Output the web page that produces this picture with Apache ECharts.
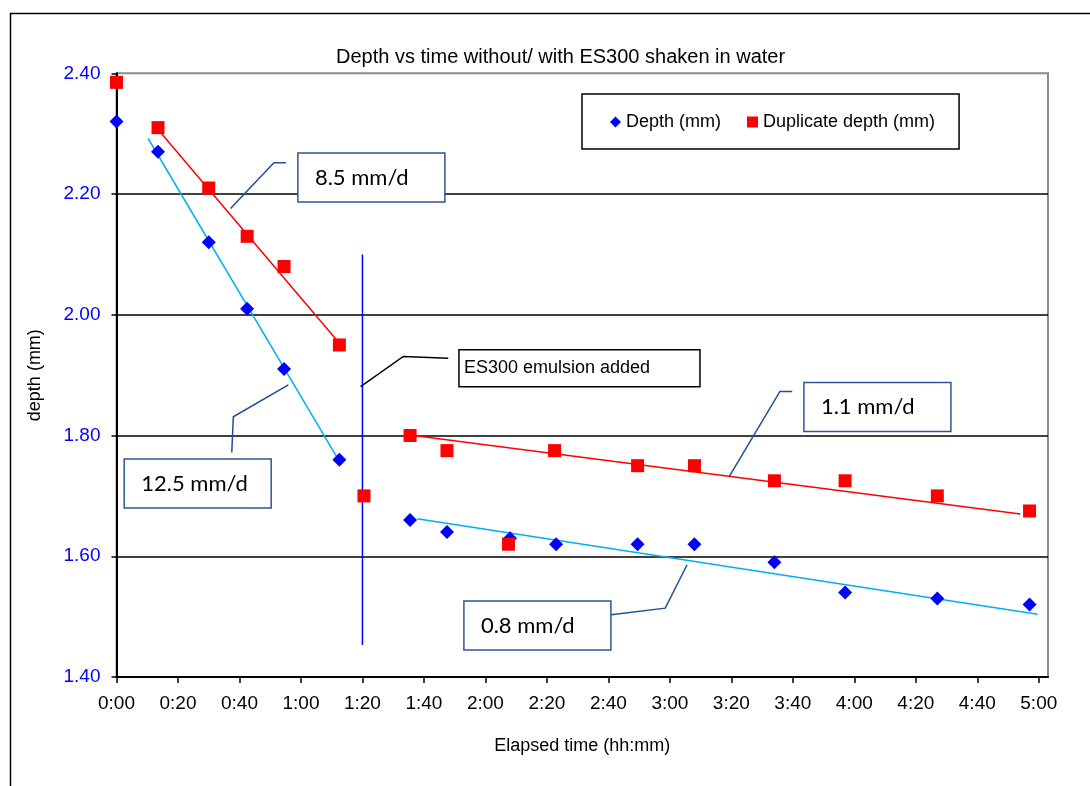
<!DOCTYPE html>
<html>
<head>
<meta charset="utf-8">
<script src="https://cdn.jsdelivr.net/npm/echarts@6/dist/echarts.min.js"></script>
<style>
  html, body { margin: 0; padding: 0; background: #fff; }
  #figurecontainer { width: 1090px; height: 786px; }
</style>
</head>
<body>
<div id="figurecontainer"></div>
<script>
	// elapsed time in minutes, depth in mm
	var depthTime = [0, 13.5, 30, 42.5, 54.5, 72.5, 95.5, 107.5, 128, 143, 169.5, 188, 214, 237, 267, 297];
	var depthVal = [2.32, 2.27, 2.12, 2.01, 1.91, 1.76, 1.66, 1.64, 1.63, 1.62, 1.62, 1.62, 1.59, 1.54, 1.53, 1.52];
	var dupTime = [0, 13.5, 30, 42.5, 54.5, 72.5, 80.5, 95.5, 107.5, 127.5, 142.5, 169.5, 188, 214, 237, 267, 297];
	var dupVal = [2.385, 2.31, 2.21, 2.13, 2.08, 1.95, 1.70, 1.80, 1.775, 1.62, 1.775, 1.75, 1.75, 1.725, 1.725, 1.70, 1.675];
	// trend lines (start / end points)
	var depthFitBefore = [[10.3, 2.292], [72.5, 1.757]];
	var depthFitAfter = [[97.8, 1.662], [299.6, 1.504]];
	var dupFitBefore = [[13.5, 2.307], [72.5, 1.953]];
	var dupFitAfter = [[95.4, 1.801], [294.0, 1.670]];
	var emulsionLine = [[80, 2.10], [80, 1.453]];
	var xTicks = [0, 20, 40, 60, 80, 100, 120, 140, 160, 180, 200, 220, 240, 260, 280, 300];
	// text boxes with leader lines, anchored in data coordinates
	var notes = [
		{ text: '8.5 mm/d', at: [59.0, 2.268], lead: [[37.1, 2.176], [51.2, 2.252], [55.1, 2.252]], rate: true },
		{ text: '12.5 mm/d', at: [2.5, 1.761], lead: [[55.9, 1.884], [38.0, 1.831], [37.5, 1.772]], rate: true },
		{ text: 'ES300 emulsion added', at: [111.4, 1.942], lead: [[79.4, 1.881], [93.3, 1.931], [107.9, 1.928]], rate: false },
		{ text: '1.1 mm/d', at: [223.6, 1.888], lead: [[199.3, 1.732], [215.8, 1.873], [219.8, 1.873]], rate: true },
		{ text: '0.8 mm/d', at: [113.0, 1.526], lead: [[160.9, 1.503], [178.5, 1.514], [185.6, 1.586]], rate: true }
	];

	var dom = document.getElementById("figurecontainer");
	var myChart = echarts.init(dom);
	var font = '"Liberation Sans", Arial, sans-serif';

	function pairs(xs, ys) {
		var out = [];
		for (var i = 0; i < xs.length; i++) {
			out.push([xs[i], ys[i]]);
		}
		return out;
	}
	function hhmm(v) {
		var m = Math.round(v);
		var mm = m % 60;
		return Math.floor(m / 60) + ':' + (mm < 10 ? '0' : '') + mm;
	}
	function fitLine(name, pts, color) {
		return {
			name: name, type: 'line', data: pts, showSymbol: false, silent: true,
			lineStyle: { color: color, width: 1.5 }, z: 1
		};
	}

	option = {
		animation: false,
		title: {
			text: 'Depth vs time without/ with ES300 shaken in water',
			left: 331, top: 42,
			textStyle: { fontFamily: font, fontSize: 20, fontWeight: 'normal', color: '#000' }
		},
		legend: {
			data: ['Depth (mm)', 'Duplicate depth (mm)'],
			left: 582, top: 94,
			padding: [19, 24, 18, 28],
			itemWidth: 11, itemHeight: 11, itemGap: 26,
			borderColor: '#000', borderWidth: 1.5,
			textStyle: { fontFamily: font, fontSize: 18, color: '#000' }
		},
		grid: {
			left: 116.5, top: 73.3, right: 42, bottom: 109,
			show: true, borderColor: '#8c8c8c', borderWidth: 2, backgroundColor: '#fff'
		},
		xAxis: {
			type: 'value', min: 0, max: 303,
			name: 'Elapsed time (hh:mm)', nameLocation: 'middle', nameGap: 60,
			nameTextStyle: { fontFamily: font, fontSize: 18, color: '#000' },
			axisLine: { lineStyle: { color: '#000', width: 2 } },
			axisTick: { show: true, length: 6, customValues: xTicks, lineStyle: { color: '#000', width: 1.5 } },
			axisLabel: { customValues: xTicks, formatter: hhmm, margin: 17,
				fontFamily: font, fontSize: 19, color: '#000' },
			splitLine: { show: false }
		},
		yAxis: {
			type: 'value', min: 1.4, max: 2.4, interval: 0.2,
			name: 'depth (mm)', nameLocation: 'middle', nameGap: 72,
			nameTextStyle: { fontFamily: font, fontSize: 18, color: '#000' },
			axisLine: { show: true, lineStyle: { color: '#000', width: 2 } },
			axisTick: { show: true, length: 5, lineStyle: { color: '#000', width: 1.5 } },
			axisLabel: { formatter: function (v) { return v.toFixed(2); }, margin: 16,
				fontFamily: font, fontSize: 19, color: '#0000ff' },
			splitLine: { show: true, showMinLine: false, showMaxLine: false, lineStyle: { color: '#000', width: 1.5 } }
		},
		series: [
			fitLine('depthFit1', depthFitBefore, '#00b0f0'),
			fitLine('depthFit2', depthFitAfter, '#00b0f0'),
			fitLine('dupFit1', dupFitBefore, '#ff0000'),
			fitLine('dupFit2', dupFitAfter, '#ff0000'),
			fitLine('emulsion', emulsionLine, '#0000ff'),
			{
				name: 'Depth (mm)', type: 'scatter', data: pairs(depthTime, depthVal),
				symbol: 'diamond', symbolSize: 14, itemStyle: { color: '#0000ff', opacity: 1 }, z: 3
			},
			{
				name: 'Duplicate depth (mm)', type: 'scatter', data: pairs(dupTime, dupVal),
				symbol: 'rect', symbolSize: 13, itemStyle: { color: '#ff0000', opacity: 1 }, z: 4
			}
		]
	};
	myChart.setOption(option, true);

	// boxes and leader lines
	var graphics = [{
		type: 'rect', shape: { x: 10.5, y: 13.5, width: 1200, height: 900 },
		style: { fill: null, stroke: '#000', lineWidth: 1.5 }, silent: true, z: 0
	}];
	for (var i = 0; i < notes.length; i++) {
		var n = notes[i];
		var pts = [];
		for (var j = 0; j < n.lead.length; j++) {
			pts.push(myChart.convertToPixel({ gridIndex: 0 }, n.lead[j]));
		}
		var tl = myChart.convertToPixel({ gridIndex: 0 }, n.at);
		var w = n.rate ? 147 : 241;
		var h = n.rate ? 49 : 37;
		graphics.push({
			type: 'polyline', shape: { points: pts }, silent: true, z: 50,
			style: { stroke: n.rate ? '#1f4e9a' : '#000', lineWidth: 1.5, fill: null }
		});
		graphics.push({
			type: 'rect', shape: { x: tl[0], y: tl[1], width: w, height: h }, silent: true, z: 50,
			style: { fill: '#fff', stroke: n.rate ? '#2f5597' : '#000', lineWidth: 1.5 }
		});
		graphics.push({
			type: 'text', x: tl[0] + (n.rate ? 17 : 5), y: tl[1] + h / 2, silent: true, z: 51,
			style: {
				text: n.text, fill: '#000', verticalAlign: 'middle', align: 'left',
				font: n.rate ? '22px Lato, "Open Sans", sans-serif' : '18px ' + font
			}
		});
	}
	myChart.setOption({ graphic: graphics });
</script>
</body>
</html>
